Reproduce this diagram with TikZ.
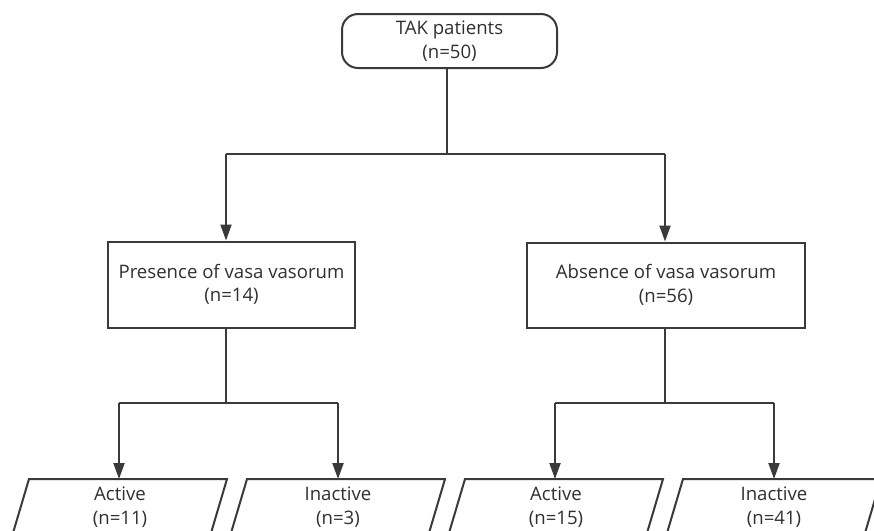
\documentclass[tikz,border=0pt]{standalone}
\usepackage{fontspec}
\setmainfont{Open Sans}
\usetikzlibrary{arrows.meta,calc}
\definecolor{ln}{HTML}{3A3A3A}
\definecolor{tx}{HTML}{303030}
\begin{document}
\begin{tikzpicture}[x=1pt,y=-1pt,
  lbl/.style={align=center,text=tx,font=\fontsize{18.6}{23.5}\selectfont,inner sep=0pt},
  boxr/.style={lbl,draw=ln,line width=2pt},
  conn/.style={draw=ln,line width=2pt},
  arr/.style={conn,-{Triangle[length=16pt,width=11pt]}},
  pshape/.style={draw=ln,line width=2pt,line join=miter}]
\useasboundingbox (0,0) rectangle (874,530);
\fill[white] (0,0) rectangle (874,530);
\begin{scope}
\clip (0,0) rectangle (874,530);
% top
\node[boxr,rounded corners=16pt,minimum width=215pt,minimum height=54pt] (tak) at (449.5,41) {TAK patients\\(n=50)};
\coordinate (j0) at (447,154);
\coordinate (jl) at (226,154);
\coordinate (jr) at (665,154);
% second level
\node[boxr,minimum width=247pt,minimum height=86pt] (pres) at (231.5,284.5) {Presence of vasa vasorum\\(n=14)};
\node[boxr,minimum width=278pt,minimum height=85pt] (abs) at (666,285) {Absence of vasa vasorum\\(n=56)};
% third level labels
\node[lbl,minimum height=54pt] (a1) at (120,507) {Active\\(n=11)};
\node[lbl,minimum height=54pt] (i1) at (338,507) {Inactive\\(n=3)};
\node[lbl,minimum height=54pt] (a2) at (556,507) {Active\\(n=15)};
\node[lbl,minimum height=54pt] (i2) at (774,507) {Inactive\\(n=41)};
% parallelograms
\foreach \n in {a1,i1,a2,i2}{
  \draw[pshape] ($(\n.center)+(-91,-28)$) -- ($(\n.center)+(107,-28)$) -- ($(\n.center)+(91,26)$) -- ($(\n.center)+(-107,26)$) -- cycle;
}
\coordinate (pt1) at ($(a1.center)+(0,-28)$);
\coordinate (pt2) at ($(i1.center)+(0,-28)$);
\coordinate (pt3) at ($(a2.center)+(0,-28)$);
\coordinate (pt4) at ($(i2.center)+(0,-28)$);
% connectors top
\draw[conn] (tak.south -| j0) -- (j0);
\draw[conn] (jl) -- (jr);
\draw[arr] (jl) -- (jl |- pres.north);
\draw[arr] (jr) -- (jr |- abs.north);
% left split
\coordinate (kl) at (226,403);
\coordinate (kl1) at (119,403);
\coordinate (kl2) at (338,403);
\draw[conn] (kl |- pres.south) -- (kl);
\draw[conn] (kl1) -- (kl2);
\draw[arr] (kl1) -- (kl1 |- pt1);
\draw[arr] (kl2) -- (kl2 |- pt2);
% right split
\coordinate (kr) at (665,403);
\coordinate (kr1) at (555,403);
\coordinate (kr2) at (774,403);
\draw[conn] (kr |- abs.south) -- (kr);
\draw[conn] (kr1) -- (kr2);
\draw[arr] (kr1) -- (kr1 |- pt3);
\draw[arr] (kr2) -- (kr2 |- pt4);
\end{scope}
\end{tikzpicture}
\end{document}
